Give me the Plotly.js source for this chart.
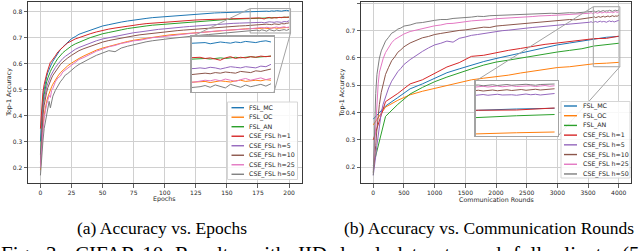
<!DOCTYPE html>
<html><head><meta charset="utf-8">
<script src="https://cdn.plot.ly/plotly-3.0.1.min.js"></script>
<style>html,body{margin:0;padding:0;background:#fff;}#chart{width:640px;height:251px;}</style>
</head><body><div id="chart"></div>
<script>
// ---------------- DATA ----------------
const SERIES_NAMES = ["FSL_MC","FSL_OC","FSL_AN","CSE_FSL h=1","CSE_FSL h=5","CSE_FSL h=10","CSE_FSL h=25","CSE_FSL h=50"];
const COLORS = ["#1f77b4","#ff7f0e","#2ca02c","#d62728","#9467bd","#8c564b","#e377c2","#7f7f7f"];

// (a) accuracy vs epochs
const EPOCHS = [0,1,2,3,4,5,6,7,8,9,10,12,14,16,18,20,22,25,28,31,35,40,45,50,55,60,65,70,75,80,85,90,95,100,105,110,115,120,125,130,135,140,145,150,155,160,165,170,172,174,176,178,180,182,184,186,188,190,192,194,196,198,200];
const EP_FSL_MC = [.300,.400,.460,.500,.530,.550,.566,.580,.590,.600,.609, .624,.640,.654,.664,.674,.684, .696,.704,.713,.720,
 .729,.738,.745,.750,.756,.760,.764,.768,.771,.774,.777,.779,.781,.783,.785,.787,.789,.791,.792,.794,.795,.796,.797,.798,.799,.800,.800,
 .801,.802,.800,.801,.803,.802,.801,.803,.802,.804,.803,.802,.804,.805,.803];
const EP_FSL_OC = [.190,.300,.360,.400,.432,.455,.472,.487,.500,.511,.521, .538,.552,.565,.575,.585,.592, .602,.612,.620,.630,
 .642,.652,.660,.667,.674,.680,.685,.690,.694,.698,.702,.705,.708,.711,.713,.716,.718,.720,.722,.724,.726,.728,.729,.731,.732,.734,.735,
 .735,.736,.734,.736,.737,.736,.735,.737,.738,.736,.737,.738,.737,.739,.738];
const EP_FSL_AN = [.250,.380,.440,.480,.510,.530,.545,.560,.570,.580,.590, .605,.620,.632,.642,.650,.658, .668,.676,.683,.690,
 .700,.708,.715,.720,.726,.730,.735,.739,.742,.745,.748,.750,.752,.754,.756,.758,.760,.762,.764,.765,.767,.768,.770,.771,.772,.773,.774,
 .774,.775,.774,.775,.776,.775,.776,.777,.776,.777,.778,.777,.778,.778,.779];
const EP_CSE_H1 = [.350,.430,.490,.520,.545,.560,.576,.592,.605,.610,.616, .630,.645,.655,.665,.672,.680, .688,.695,.700,.708,
 .715,.722,.728,.733,.737,.741,.745,.748,.751,.754,.756,.758,.760,.762,.764,.765,.767,.768,.769,.770,.771,.772,.773,.773,.774,.775,.776,
 .777,.775,.776,.774,.772,.776,.778,.775,.777,.776,.778,.777,.779,.778,.779];
const EP_CSE_H5 = [.220,.360,.420,.460,.490,.510,.525,.540,.550,.560,.570, .585,.598,.610,.620,.628,.635, .645,.655,.662,.670,
 .680,.688,.695,.700,.706,.710,.715,.719,.722,.726,.729,.732,.734,.737,.739,.741,.743,.745,.747,.749,.750,.752,.753,.755,.756,.757,.758,
 .759,.758,.760,.759,.757,.759,.761,.760,.759,.761,.760,.759,.762,.761,.765];
const EP_CSE_H10 = [.200,.340,.400,.440,.470,.490,.508,.522,.535,.545,.555, .570,.584,.596,.606,.615,.622, .632,.642,.650,.658,
 .667,.676,.683,.689,.694,.699,.703,.707,.711,.714,.717,.720,.722,.725,.727,.729,.731,.733,.735,.737,.739,.741,.742,.744,.745,.746,.748,
 .748,.750,.749,.751,.750,.752,.751,.750,.753,.752,.751,.754,.753,.755,.757];
const EP_CSE_H25 = [.200,.300,.340,.390,.420,.445,.460,.478,.470,.497,.505, .530,.545,.552,.568,.575,.583, .596,.604,.616,.624,
 .637,.648,.656,.665,.670,.678,.682,.688,.690,.695,.700,.702,.705,.709,.710,.714,.716,.718,.721,.722,.725,.727,.728,.730,.732,.733,.735,
 .736,.738,.737,.739,.737,.740,.738,.736,.739,.741,.738,.740,.742,.739,.741];
const EP_CSE_H50 = [.170,.250,.300,.350,.380,.410,.440,.455,.430,.460,.475, .497,.515,.530,.542,.556,.562, .575,.587,.597,.608,
 .620,.632,.641,.650,.646,.660,.667,.673,.679,.684,.688,.690,.694,.697,.700,.702,.705,.707,.710,.712,.714,.716,.718,.720,.722,.724,.725,
 .727,.729,.726,.730,.728,.725,.731,.728,.726,.730,.727,.729,.731,.728,.732];

// (b) accuracy vs communication rounds
const ROUNDS_FSL = [0,200,400,600,800,1000,1200,1400,1600,1800,2000,2200,2400,2600,2800,3000,3200,3400,3600,3800,4000];
const RD_FSL_MC = [.376,.424,.455,.487,.505,.525,.546,.560,.574,.587,.598,.608,.620,.630,.640,.648,.655,.662,.671,.676,.679];
const RD_FSL_OC = [.355,.420,.445,.465,.478,.488,.500,.510,.520,.526,.531,.537,.545,.551,.558,.565,.568,.573,.579,.581,.584];
const RD_FSL_AN = [.205,.386,.430,.468,.492,.513,.530,.546,.560,.574,.585,.592,.600,.607,.614,.622,.628,.634,.644,.649,.654];
const RD_CSE_H1 = [.300,.440,.470,.505,.520,.543,.567,.583,.606,.610,.620,.628,.635,.643,.650,.655,.661,.667,.671,.672,.680];
const ROUNDS_CSE = [0,20,40,60,80,100,130,160,200,250,300,350,400,450,500,
 600,700,800,900,1000,1100,1200,1300,1400,1500,1600,1700,1800,1900,2000,2100,2200,2300,2400,2500,2600,2700,2800,2900,3000,3100,3200,3300,3400,3500,
 3525,3550,3575,3600,3625,3650,3675,3700,3725,3750,3775,3800,3825,3850,3875,3900,3925,3950,3975,4000];
const RD_CSE_H5 = [.170,.200,.240,.280,.320,.360,.400,.430,.460,.490,.515,.533,.550,.562,.576,
 .594,.610,.624,.637,.648,.654,.662,.658,.672,.677,.683,.686,.690,.692,.697,.700,.702,.705,.707,.709,.712,.714,.716,.718,.720,.722,.724,.725,.727,.729,
 .731,.733,.730,.732,.734,.731,.733,.735,.732,.734,.733,.731,.734,.736,.733,.735,.732,.734,.737,.738];
const RD_CSE_H10 = [.180,.220,.280,.340,.390,.430,.474,.508,.540,.566,.590,.604,.621,.630,.641,
 .655,.664,.674,.679,.686,.690,.694,.697,.701,.703,.707,.709,.713,.712,.717,.719,.721,.724,.725,.728,.730,.731,.734,.735,.737,.738,.741,.740,.743,.745,
 .748,.746,.749,.751,.748,.750,.752,.749,.751,.753,.750,.752,.754,.751,.753,.755,.752,.754,.753,.757];
const RD_CSE_H25 = [.190,.270,.370,.450,.505,.548,.578,.597,.620,.640,.656,.668,.674,.683,.688,
 .697,.702,.709,.713,.718,.721,.726,.727,.731,.733,.736,.737,.740,.741,.744,.745,.747,.748,.750,.751,.752,.754,.754,.756,.757,.758,.759,.760,.761,.762,
 .764,.766,.763,.765,.767,.764,.766,.768,.765,.767,.769,.766,.768,.767,.769,.766,.768,.770,.767,.769];
const RD_CSE_H50 = [.170,.350,.470,.540,.578,.600,.626,.644,.662,.676,.691,.697,.706,.710,.717,
 .721,.728,.730,.735,.738,.741,.741,.745,.746,.749,.750,.753,.752,.755,.756,.757,.756,.759,.760,.760,.762,.761,.763,.764,.763,.765,.766,.765,.767,.768,
 .770,.768,.771,.772,.769,.771,.773,.770,.772,.774,.771,.773,.772,.775,.773,.771,.774,.775,.773,.776];

const X_TICKS_A = [0,25,50,75,100,125,150,175,200];
const X_TICKS_B = [0,500,1000,1500,2000,2500,3000,3500,4000];
const Y_TICKS = [0.2,0.3,0.4,0.5,0.6,0.7,0.8];
const X_TITLE_A = "Epochs", X_TITLE_B = "Communication Rounds", Y_TITLE = "Top-1 Accuracy";
const CAPTION_A = "(a) Accuracy vs. Epochs";
const CAPTION_B = "(b) Accuracy vs. Communication Rounds";
const FIG_CAPTION = "Fig. 3: CIFAR-10 Results with IID local datasets and full clients (5";

// ---------------- LAYOUT GEOMETRY (px) ----------------
const W = 640, H = 251;
const fx = p => p / W, fy = p => 1 - p / H;
const BOX = {
  L:  {x0: 28,    x1: 301.5, y0: 1.8,  y1: 183.2, xr: [-10, 210],     yr: [0.140, 0.838]},
  R:  {x0: 361,   x1: 631,   y0: 1.8,  y1: 183.2, xr: [-200, 4200],   yr: [0.141, 0.806]},
  LI: {x0: 191.7, x1: 274,   y0: 36.7, y1: 92,    xr: [168.7, 201.2], yr: [0.718, 0.812]},
  RI: {x0: 475.7, x1: 558,   y0: 81,   y1: 136,   xr: [3586, 4018],   yr: [0.568, 0.788]}
};
const toPx = (b, xv, yv) => [b.x0 + (xv - b.xr[0]) / (b.xr[1] - b.xr[0]) * (b.x1 - b.x0),
                             b.y0 + (b.yr[1] - yv) / (b.yr[1] - b.yr[0]) * (b.y1 - b.y0)];

const TICK_FONT = {family: "DejaVu Sans, sans-serif", size: 6, color: "#262626"};
const LBL_FONT = {family: "DejaVu Sans, sans-serif", size: 6.3, color: "#262626"};

function mainX(b, tv, anchor) {
  return {domain: [fx(b.x0), fx(b.x1)], range: b.xr, tickvals: tv, anchor: anchor,
    showgrid: true, gridcolor: "#d0d0d0", gridwidth: 1, zeroline: false,
    showline: true, mirror: true, linecolor: "#3a3a3a", linewidth: 1,
    ticks: "outside", ticklen: 3.5, tickwidth: 0.8, tickcolor: "#3a3a3a", tickfont: TICK_FONT, fixedrange: true};
}
function mainY(b, anchor) {
  return {domain: [fy(b.y1), fy(b.y0)], range: b.yr, tickvals: Y_TICKS, tickformat: ".1f", anchor: anchor,
    showgrid: true, gridcolor: "#d0d0d0", gridwidth: 1, zeroline: false,
    showline: true, mirror: true, linecolor: "#3a3a3a", linewidth: 1,
    ticks: "outside", ticklen: 3.5, tickwidth: 0.8, tickcolor: "#3a3a3a", tickfont: TICK_FONT, fixedrange: true};
}
function insetX(b, anchor) {
  return {domain: [fx(b.x0), fx(b.x1)], range: b.xr, anchor: anchor, showgrid: false, zeroline: false,
    showticklabels: false, ticks: "", showline: true, mirror: true, linecolor: "#a3a3a3", linewidth: 1.3, fixedrange: true};
}
function insetY(b, anchor) {
  return {domain: [fy(b.y1), fy(b.y0)], range: b.yr, anchor: anchor, showgrid: false, zeroline: false,
    showticklabels: false, ticks: "", showline: true, mirror: true, linecolor: "#a3a3a3", linewidth: 1.3, fixedrange: true};
}

// ---------------- TRACES ----------------
const EP_SERIES = [EP_FSL_MC, EP_FSL_OC, EP_FSL_AN, EP_CSE_H1, EP_CSE_H5, EP_CSE_H10, EP_CSE_H25, EP_CSE_H50];
const RD_SERIES = [RD_FSL_MC, RD_FSL_OC, RD_FSL_AN, RD_CSE_H1, RD_CSE_H5, RD_CSE_H10, RD_CSE_H25, RD_CSE_H50];
const RD_X = [ROUNDS_FSL, ROUNDS_FSL, ROUNDS_FSL, ROUNDS_FSL, ROUNDS_CSE, ROUNDS_CSE, ROUNDS_CSE, ROUNDS_CSE];

const traces = [];
const addSet = (xs, ysList, xa, ya, w) => ysList.forEach((ys, i) => traces.push({
  type: "scatter", mode: "lines", x: Array.isArray(xs[0]) ? xs[i] : xs, y: ys, name: SERIES_NAMES[i],
  xaxis: xa, yaxis: ya, line: {color: COLORS[i], width: w}, showlegend: false, hoverinfo: "skip"}));
addSet(EPOCHS, EP_SERIES, "x", "y", 1.0);
addSet(RD_X, RD_SERIES, "x2", "y2", 1.0);
addSet(EPOCHS, EP_SERIES, "x3", "y3", 1.0);
addSet(RD_X, RD_SERIES, "x4", "y4", 1.0);

// ---------------- SHAPES / ANNOTATIONS ----------------
const shapes = [], annotations = [];
const GRAY = "#a3a3a3";
function zoomMarks(main, ins, xref, yref) {
  shapes.push({type: "rect", xref: xref, yref: yref, x0: ins.xr[0], x1: ins.xr[1], y0: ins.yr[0], y1: ins.yr[1],
    line: {color: GRAY, width: 1}, layer: "above"});
  const tl = toPx(main, ins.xr[0], ins.yr[1]);
  const br = toPx(main, ins.xr[1], ins.yr[0]);
  shapes.push({type: "line", xref: "paper", yref: "paper", x0: fx(tl[0]), y0: fy(tl[1]), x1: fx(ins.x0), y1: fy(ins.y0),
    line: {color: GRAY, width: 1}, layer: "above"});
  shapes.push({type: "line", xref: "paper", yref: "paper", x0: fx(br[0]), y0: fy(br[1]), x1: fx(ins.x1), y1: fy(ins.y1),
    line: {color: GRAY, width: 1}, layer: "above"});
}
zoomMarks(BOX.L, BOX.LI, "x", "y");
zoomMarks(BOX.R, BOX.RI, "x2", "y2");

function legend(bx0, bx1, by0, by1, lx0, lx1, tx, row0, dy) {
  shapes.push({type: "rect", xref: "paper", yref: "paper", x0: fx(bx0), x1: fx(bx1), y0: fy(by1), y1: fy(by0),
    line: {color: "#d6d6d6", width: 1}, fillcolor: "rgba(255,255,255,0.85)", layer: "above"});
  SERIES_NAMES.forEach((n, i) => {
    const yy = row0 + i * dy;
    shapes.push({type: "line", xref: "paper", yref: "paper", x0: fx(lx0), x1: fx(lx1), y0: fy(yy), y1: fy(yy),
      line: {color: COLORS[i], width: 1.4}, layer: "above"});
    annotations.push({xref: "paper", yref: "paper", x: fx(tx), y: fy(yy), xanchor: "left", yanchor: "middle",
      text: n, showarrow: false, font: LBL_FONT, borderpad: 0});
  });
}
legend(227.5, 297.5, 102, 179.5, 231.5, 244, 248, 107.7, 9.51);
legend(561, 630, 101.5, 178, 564, 577, 581.5, 106, 9.71);

// axis titles
const axTitle = (t, x, y, ang) => annotations.push({xref: "paper", yref: "paper", x: fx(x), y: fy(y),
  xanchor: "center", yanchor: "middle", text: t, textangle: ang, showarrow: false, font: LBL_FONT, borderpad: 0});
axTitle(X_TITLE_A, (BOX.L.x0 + BOX.L.x1) / 2, 199.3, 0);
axTitle(X_TITLE_B, (BOX.R.x0 + BOX.R.x1) / 2, 199.3, 0);
axTitle(Y_TITLE, 8.3, 92.5, -90);
axTitle(Y_TITLE, 341.7, 92.5, -90);

// sub captions
const CAP_FONT = {family: "Liberation Serif, Times New Roman, serif", size: 17.5, color: "#000"};
annotations.push({xref: "paper", yref: "paper", x: fx(162), y: fy(228), xanchor: "center", yanchor: "middle",
  text: CAPTION_A, showarrow: false, font: CAP_FONT, borderpad: 0});
annotations.push({xref: "paper", yref: "paper", x: fx(488.5), y: fy(228), xanchor: "center", yanchor: "middle",
  text: CAPTION_B, showarrow: false, font: CAP_FONT, borderpad: 0});

// figure caption line (justified, clipped at bottom)
(function () {
  const fs = 21;
  const words = FIG_CAPTION.split(" ");
  const ctx = document.createElement("canvas").getContext("2d");
  ctx.font = fs + "px 'Liberation Serif'";
  const widths = words.map(w => ctx.measureText(w).width);
  const total = widths.reduce((a, b) => a + b, 0);
  const start = 0, end = 638;
  const gap = (end - start - total) / (words.length - 1);
  let x = start;
  words.forEach((w, i) => {
    annotations.push({xref: "paper", yref: "paper", x: fx(x), y: fy(241), xanchor: "left", yanchor: "top",
      text: w, showarrow: false, borderpad: 0,
      font: {family: "Liberation Serif, Times New Roman, serif", size: fs, color: "#000"}});
    x += widths[i] + gap;
  });
})();

const layout = {
  width: W, height: H, margin: {l: 0, r: 0, t: 0, b: 0, pad: 0},
  paper_bgcolor: "#fff", plot_bgcolor: "#fff", showlegend: false,
  xaxis: mainX(BOX.L, X_TICKS_A, "y"), yaxis: mainY(BOX.L, "x"),
  xaxis2: mainX(BOX.R, X_TICKS_B, "y2"), yaxis2: mainY(BOX.R, "x2"),
  xaxis3: insetX(BOX.LI, "y3"), yaxis3: insetY(BOX.LI, "x3"),
  xaxis4: insetX(BOX.RI, "y4"), yaxis4: insetY(BOX.RI, "x4"),
  shapes: shapes, annotations: annotations
};
Plotly.newPlot("chart", traces, layout, {displayModeBar: false, staticPlot: true});
</script></body></html>
